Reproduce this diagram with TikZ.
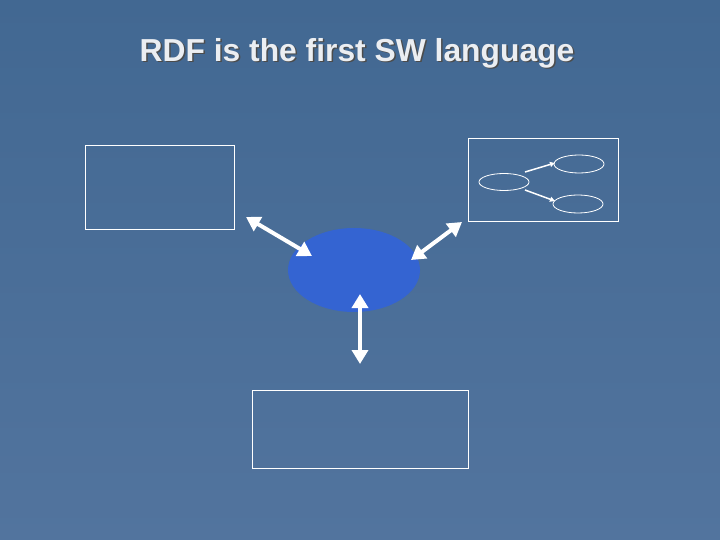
\documentclass[tikz,border=0pt]{standalone}
\usepackage{fontspec}
\setmainfont{Liberation Sans}
\usetikzlibrary{arrows.meta}
\definecolor{bgtop}{RGB}{66,104,146}
\definecolor{bgbot}{RGB}{82,116,158}
\definecolor{blob}{RGB}{52,100,210}
\definecolor{titlec}{RGB}{235,238,242}
\begin{document}
\begin{tikzpicture}[x=1pt,y=-1pt,
  box/.style={draw=white,line width=0.8pt},
  oval/.style={draw=white,line width=0.8pt},
  ttl/.style={font=\fontsize{31.8}{36}\selectfont\bfseries},
  bigarrow/.style={white,line width=4pt,{Triangle[length=14pt,width=16pt]}-{Triangle[length=14pt,width=16pt]}},
  smallarrow/.style={white,line width=1.5pt,-{Triangle[length=5pt,width=5pt]}}]
\shade[top color=bgtop,bottom color=bgbot] (0,0) rectangle (720,540);
\useasboundingbox (0,0) rectangle (720,540);
\node[ttl,text=black!70] (shadow) at (358.5,54.5) {RDF is the first SW language};
\node[ttl,text=titlec] (title) at (357,53) {RDF is the first SW language};
\node[box,minimum width=149,minimum height=84,inner sep=0] (lb) at (159.5,187) {};
\node[box,minimum width=150,minimum height=83,inner sep=0] (rb) at (543,179.5) {};
\node[box,minimum width=216,minimum height=78,inner sep=0] (bb) at (360,429) {};
\fill[blob] (354,270) ellipse [x radius=66,y radius=42];
\node[minimum width=132,minimum height=84,inner sep=0] (c) at (354,270) {};
\draw[oval] (504,182) ellipse [x radius=25,y radius=8.5];
\draw[oval] (579,164) ellipse [x radius=25,y radius=9];
\draw[oval] (578,204) ellipse [x radius=25,y radius=9];
\coordinate (a1) at (525,172); \coordinate (a2) at (555,163);
\coordinate (b1) at (525,190); \coordinate (b2) at (555,201);
\draw[smallarrow] (a1) -- (a2);
\draw[smallarrow] (b1) -- (b2);
\coordinate (l1) at (246,217); \coordinate (l2) at (312,256);
\coordinate (r1) at (462,222); \coordinate (r2) at (411,260);
\coordinate (d1) at (360,294); \coordinate (d2) at (360,364);
\draw[bigarrow] (l1) -- (l2);
\draw[bigarrow] (r1) -- (r2);
\draw[bigarrow] (d1) -- (d2);
\end{tikzpicture}
\end{document}
